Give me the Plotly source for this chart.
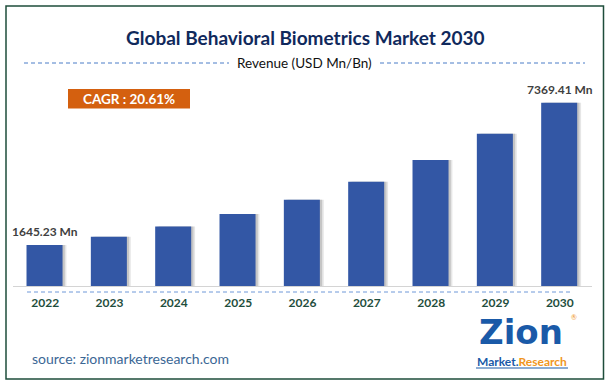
import plotly.graph_objects as go

years = ["2022", "2023", "2024", "2025", "2026", "2027", "2028", "2029", "2030"]
revenue = [1645.23, 1984, 2390, 2890, 3470, 4195, 5070, 6120, 7369.41]
first_label = "1645.23 Mn"
last_label = "7369.41 Mn"
title_text = "Global Behavioral Biometrics Market 2030"
subtitle_text = "Revenue (USD Mn/Bn)"
cagr_text = "CAGR : 20.61%"
source_text = "source: zionmarketresearch.com"

FONT = "Lato, 'Open Sans', sans-serif"
BAR = "#3357A5"

pos = list(range(len(years)))

fig = go.Figure()
# soft shadow behind bars (two layers for a blurred look)
fig.add_trace(go.Bar(x=pos, y=revenue, width=0.56, offset=-0.23,
                     marker=dict(color="rgba(80,80,80,0.14)", line=dict(width=0)),
                     hoverinfo="skip", showlegend=False))
fig.add_trace(go.Bar(x=pos, y=revenue, width=0.56, offset=-0.255,
                     marker=dict(color="rgba(80,80,80,0.22)", line=dict(width=0)),
                     hoverinfo="skip", showlegend=False))
fig.add_trace(go.Bar(x=pos, y=revenue, width=0.56, offset=-0.29,
                     marker=dict(color=BAR, line=dict(width=0)), showlegend=False))

W, H = 610, 384
ml, mr, mt, mb = 13, 18, 80, 98

def px(x):
    return (x - ml) / (W - ml - mr)

def py(y):
    return (H - mb - y) / (H - mt - mb)

fig.update_layout(
    width=W, height=H, barmode="overlay",
    margin=dict(l=ml, r=mr, t=mt, b=mb),
    paper_bgcolor="white", plot_bgcolor="white",
    font=dict(family=FONT),
    xaxis=dict(range=[-0.5, len(years) - 0.5], tickvals=pos, ticktext=years,
               showline=True, linecolor="#d4d4d4", linewidth=1, ticks="",
               ticklabelstandoff=6,
               tickfont=dict(family=FONT, size=12, color="#1f4e3d", weight="bold"),
               showgrid=False, zeroline=False, fixedrange=True),
    yaxis=dict(range=[0, 8282], visible=False, showgrid=False, fixedrange=True),
)

shapes = []
shapes.append(dict(type="rect", xref="paper", yref="paper",
                   x0=px(6), x1=px(603.5), y0=py(379), y1=py(6),
                   line=dict(color="#1e4d3b", width=1.5), fillcolor="rgba(0,0,0,0)"))
shapes.append(dict(type="line", xref="paper", yref="paper", x0=px(24), x1=px(229),
                   y0=py(63), y1=py(63), line=dict(color="#4a7cc7", width=1, dash="4px,3px")))
shapes.append(dict(type="line", xref="paper", yref="paper", x0=px(380), x1=px(585),
                   y0=py(63), y1=py(63), line=dict(color="#4a7cc7", width=1, dash="4px,3px")))
shapes.append(dict(type="line", xref="paper", yref="paper", x0=px(27), x1=px(573),
                   y0=py(292), y1=py(292), line=dict(color="#6f98d8", width=1, dash="4px,3px")))
shapes.append(dict(type="rect", xref="paper", yref="paper", x0=px(68), x1=px(190),
                   y0=py(108.5), y1=py(89), line=dict(width=0), fillcolor="#D4600F"))
# underline of logo subtitle
shapes.append(dict(type="line", xref="paper", yref="paper", x0=px(476), x1=px(568),
                   y0=py(368), y1=py(368), line=dict(color="#1a5aa8", width=1)))
fig.update_layout(shapes=shapes)

ann = []
ann.append(dict(text=f"<b>{title_text}</b>", xref="paper", yref="paper", x=px(306), y=py(37),
                showarrow=False, font=dict(family=FONT, size=19, color="#10295c"),
                xanchor="center", yanchor="middle"))
ann.append(dict(text=subtitle_text, xref="paper", yref="paper", x=px(304), y=py(63),
                showarrow=False, font=dict(family=FONT, size=13.5, color="#111111"),
                xanchor="center", yanchor="middle"))
ann.append(dict(text=f"<b>{cagr_text}</b>", xref="paper", yref="paper", x=px(129), y=py(99),
                showarrow=False, font=dict(family=FONT, size=13.5, color="white"),
                xanchor="center", yanchor="middle"))
ann.append(dict(text=f"<b>{first_label}</b>", xref="x", yref="y", x=pos[0], y=revenue[0],
                yshift=14, showarrow=False, font=dict(family=FONT, size=12, color="#404040"),
                xanchor="center", yanchor="middle"))
ann.append(dict(text=f"<b>{last_label}</b>", xref="x", yref="y", x=pos[-1], y=revenue[-1],
                yshift=13, showarrow=False, font=dict(family=FONT, size=12, color="#404040"),
                xanchor="center", yanchor="middle"))
ann.append(dict(text=source_text, xref="paper", yref="paper", x=px(30), y=py(358),
                showarrow=False, font=dict(family=FONT, size=14, color="#3b6795"),
                xanchor="left", yanchor="middle"))
ann.append(dict(text="<b>Zion</b>", xref="paper", yref="paper", x=px(521), y=py(332),
                showarrow=False, font=dict(family="DejaVu Sans", size=34, color="#1a5aa8"),
                xanchor="center", yanchor="middle", borderpad=0))
ann.append(dict(text="<b><span style='color:#1a5aa8'>Market.</span><span style='color:#f0961e'>Research</span></b>",
                xref="paper", yref="paper", x=px(522), y=py(361),
                showarrow=False, font=dict(family=FONT, size=12),
                xanchor="center", yanchor="middle", borderpad=0))
ann.append(dict(text="®", xref="paper", yref="paper", x=px(574), y=py(317),
                showarrow=False, font=dict(family=FONT, size=7, color="#f0961e"),
                xanchor="center", yanchor="middle", borderpad=0))
fig.update_layout(annotations=ann)

fig.write_html("out.html", config={"displayModeBar": False},
               post_script="document.body.style.margin='0';document.body.style.padding='0';")
